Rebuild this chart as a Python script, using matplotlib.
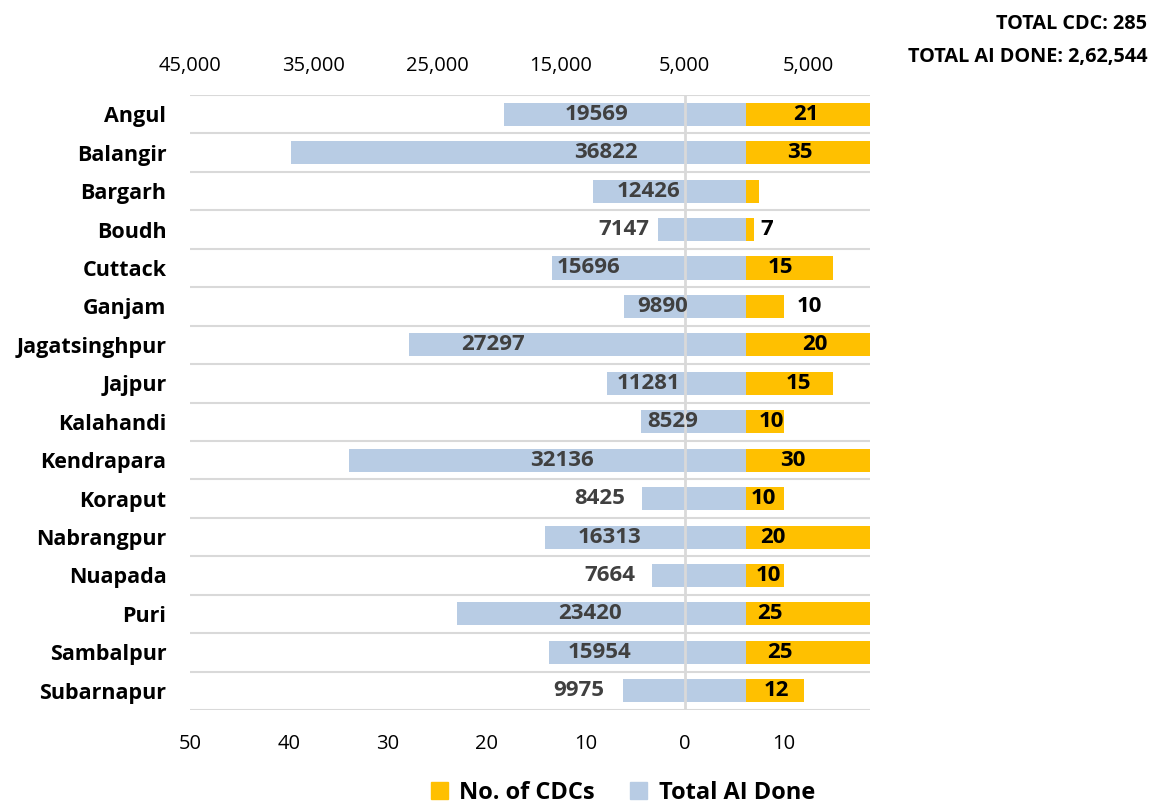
import matplotlib.pyplot as plt
import matplotlib.transforms as mtransforms
from matplotlib.patches import Patch
import numpy as np

plt.rcParams['font.family'] = ['Open Sans', 'DejaVu Sans']

districts = ['Angul', 'Balangir', 'Bargarh', 'Boudh', 'Cuttack', 'Ganjam',
             'Jagatsinghpur', 'Jajpur', 'Kalahandi', 'Kendrapara', 'Koraput',
             'Nabrangpur', 'Nuapada', 'Puri', 'Sambalpur', 'Subarnapur']
cdc = [21, 35, 7.5, 7, 15, 10, 20, 15, 10, 30, 10, 20, 10, 25, 25, 12]
cdc_labels = ['21', '35', '', '7', '15', '10', '20', '15', '10', '30', '10',
              '20', '10', '25', '25', '12']
ai_done = [19569, 36822, 12426, 7147, 15696, 9890, 27297, 11281, 8529,
           32136, 8425, 16313, 7664, 23420, 15954, 9975]

# where the data labels sit (as placed by hand in the original)
ai_label_x = [-12100, -11350, -7880, -9900, -12730, -6750, -20500, -7880,
              -5940, -14910, -11840, -11030, -11030, -12650, -11840, -13540]
cdc_label_x = [12.2, 11.6, 0, 8.3, 9.7, 12.6, 13.1, 11.5, 8.7, 10.9, 7.9,
               8.9, 8.4, 8.6, 9.6, 9.2]

orange = '#FFC000'
blue = '#B8CCE4'
grid_c = '#D9D9D9'

fig = plt.figure(figsize=(11.55, 8.08), dpi=100)
ax = fig.add_axes([190 / 1155, 1 - 710 / 808, 680 / 1155, 615 / 808])
ax2 = ax.twiny()

y = np.arange(len(districts))

# CDC bars on the bottom axis
ax.barh(y, cdc, height=0.6, color=orange, zorder=2)
ax.set_xlim(-50, 18.7)
ax.set_ylim(len(districts) - 0.5, -0.5)
ax.set_xticks(np.arange(-50, 11, 10))
ax.set_xticklabels([str(abs(v)) for v in range(-50, 11, 10)])
ax.set_yticks(y)
ax.set_yticklabels(districts, fontweight='bold', fontsize=15.5)
ax.set_yticks(np.arange(len(districts) + 1) - 0.5, minor=True)
ax.grid(which='minor', axis='y', color=grid_c, linewidth=1.5, zorder=0)
ax.tick_params(axis='y', which='both', length=0, pad=17)
ax.tick_params(axis='x', length=0, pad=17, labelsize=14.5)

# AI bars on the top axis (drawn in front)
ax2.barh(y, [-v for v in ai_done], height=0.6, color=blue, zorder=2)
ax2.set_xlim(-45000, 10000)
ax2.set_xticks(np.arange(-45000, 10001, 10000))
ax2.set_xticklabels([f'{abs(v):,}' for v in range(-45000, 10001, 10000)])
ax2.tick_params(axis='x', length=0, pad=14, labelsize=14.5)

# vertical line at zero of the CDC axis, on top of the bars
trans = mtransforms.blended_transform_factory(ax.transData, ax2.transAxes)
ax2.plot([0, 0], [0, 1], transform=trans, color=grid_c, linewidth=2, zorder=5)

for sp in list(ax.spines.values()) + list(ax2.spines.values()):
    sp.set_visible(False)

for i in range(len(districts)):
    ax2.text(ai_label_x[i], y[i], str(ai_done[i]), ha='center', va='center',
             fontsize=16, fontweight='bold', color='#404040', zorder=6)
    if cdc_labels[i]:
        ax2.text(cdc_label_x[i], y[i], cdc_labels[i], transform=ax.transData,
                 ha='center', va='center', fontsize=16, fontweight='bold',
                 color='black', zorder=6)

fig.text(1147 / 1155, 1 - 24 / 808, 'TOTAL CDC: 285', ha='right', va='center',
         fontsize=14.3, fontweight='bold')
fig.text(1147 / 1155, 1 - 57 / 808, 'TOTAL AI DONE: 2,62,544', ha='right',
         va='center', fontsize=14.3, fontweight='bold')

handles = [Patch(color=orange, label='No. of CDCs'),
           Patch(color=blue, label='Total AI Done')]
fig.legend(handles=handles, loc='center', bbox_to_anchor=(623 / 1155, 1 - 793 / 808),
           ncol=2, frameon=False, prop={'weight': 'bold', 'size': 17},
           handlelength=0.7, handleheight=0.7, handletextpad=0.5, columnspacing=1.5)

fig.savefig('out.png', dpi=100)
